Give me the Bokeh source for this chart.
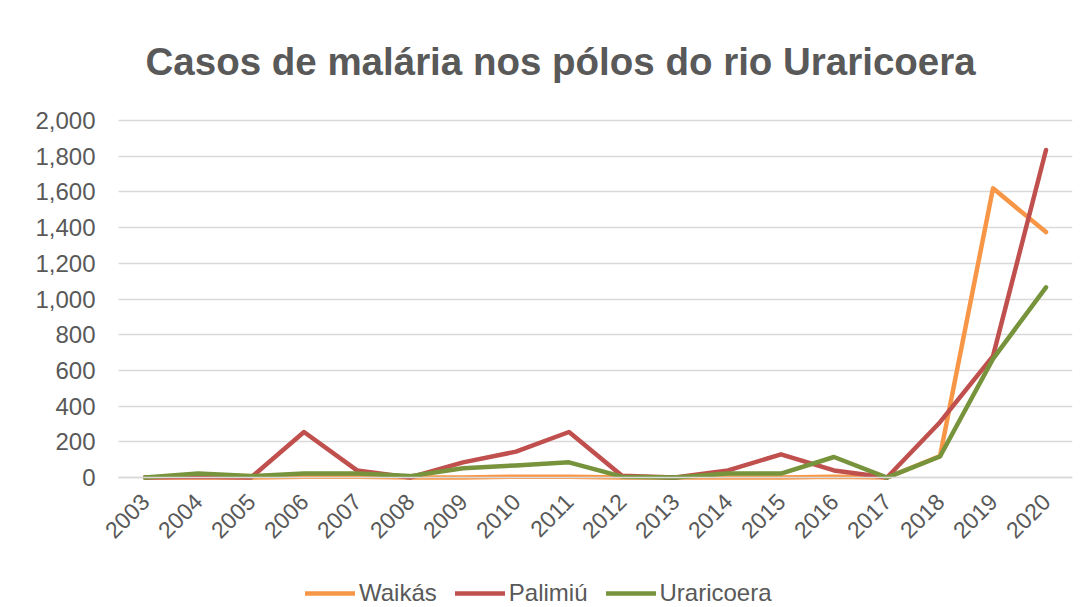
import math
from bokeh.plotting import figure
from bokeh.models import (Range1d, NumeralTickFormatter, FixedTicker, BasicTickFormatter,
                          Legend, LegendItem)
from bokeh.embed import file_html
from bokeh.resources import INLINE

years = list(range(2003, 2021))
waikas = [0, 0, 0, 5, 5, 0, 0, 5, 5, 0, 0, 0, 0, 5, 0, 120, 1620, 1375]
palimiu = [0, 5, 0, 255, 40, 0, 85, 145, 255, 10, 0, 40, 130, 40, 0, 310, 680, 1835]
uraricoera = [0, 22, 8, 22, 22, 8, 52, 68, 85, 5, 0, 22, 22, 115, 0, 118, 665, 1065]
y_ticks = [0, 200, 400, 600, 800, 1000, 1200, 1400, 1600, 1800, 2000]

series_names = ["Waikás", "Palimiú", "Uraricoera"]
colors = ["#F79646", "#C0504D", "#77933C"]
FONT = "Liberation Sans"
TXT = "#595959"
GRID = "#D9D9D9"

x_lo, x_hi = years[0] - 0.5, years[-1] + 0.5

# frame spans nearly the whole canvas; axes are pinned inside it so the legend
# and tick labels can sit around the plotting area like in the original
p = figure(width=1088, height=607, output_backend="svg", toolbar_location=None,
           x_range=Range1d(x_hi - 1062 / 53.0, x_hi), y_range=Range1d(-728, 2056),
           min_border_left=10, min_border_right=16, min_border_top=110, min_border_bottom=0)

p.outline_line_color = None
p.background_fill_color = "white"
p.border_fill_color = "white"

p.title.text = "Casos de malária nos pólos do rio Uraricoera"
p.title.text_font = FONT
p.title.text_font_size = "38.5px"
p.title.text_font_style = "bold"
p.title.text_color = TXT
p.title.align = "left"
p.title.offset = 135
p.title.standoff = 55

p.xgrid.grid_line_color = None
p.ygrid.grid_line_color = GRID
p.ygrid.grid_line_width = 1.5
p.ygrid.cross_bounds = (x_lo, x_hi)

p.yaxis.fixed_location = x_lo
p.yaxis.ticker = FixedTicker(ticks=y_ticks)
p.yaxis.formatter = NumeralTickFormatter(format="0,0")
p.yaxis.axis_line_color = None
p.yaxis.major_tick_line_color = None
p.yaxis.minor_tick_line_color = None
p.yaxis.major_tick_out = 0
p.yaxis.major_tick_in = 0
p.yaxis.major_label_standoff = 23
p.yaxis.major_label_text_font = FONT
p.yaxis.major_label_text_font_size = "24px"
p.yaxis.major_label_text_color = TXT

p.xaxis.fixed_location = 0
p.xaxis.bounds = (x_lo, x_hi)
p.xaxis.ticker = FixedTicker(ticks=years)
p.xaxis.formatter = BasicTickFormatter(use_scientific=False)
p.xaxis.axis_line_color = GRID
p.xaxis.axis_line_width = 1.5
p.xaxis.major_tick_line_color = None
p.xaxis.minor_tick_line_color = None
p.xaxis.major_tick_out = 0
p.xaxis.major_tick_in = 0
p.xaxis.major_label_orientation = math.pi / 4
p.xaxis.major_label_standoff = 20
p.xaxis.major_label_text_font = FONT
p.xaxis.major_label_text_font_size = "23px"
p.xaxis.major_label_text_color = TXT

items = []
for name, vals, c in zip(series_names, [waikas, palimiu, uraricoera], colors):
    r = p.line(years, vals, line_color=c, line_width=4.5, line_cap="round", line_join="round")
    items.append(LegendItem(label=name, renderers=[r]))

legend = Legend(items=items, orientation="horizontal", location=(295, 0),
                label_text_font=FONT, label_text_font_size="24px", label_text_color=TXT,
                glyph_width=50, glyph_height=24, label_standoff=4, spacing=18,
                border_line_color=None, background_fill_alpha=0, padding=0, margin=0)
p.add_layout(legend, "center")

open("out.html", "w").write(file_html(p, INLINE))
